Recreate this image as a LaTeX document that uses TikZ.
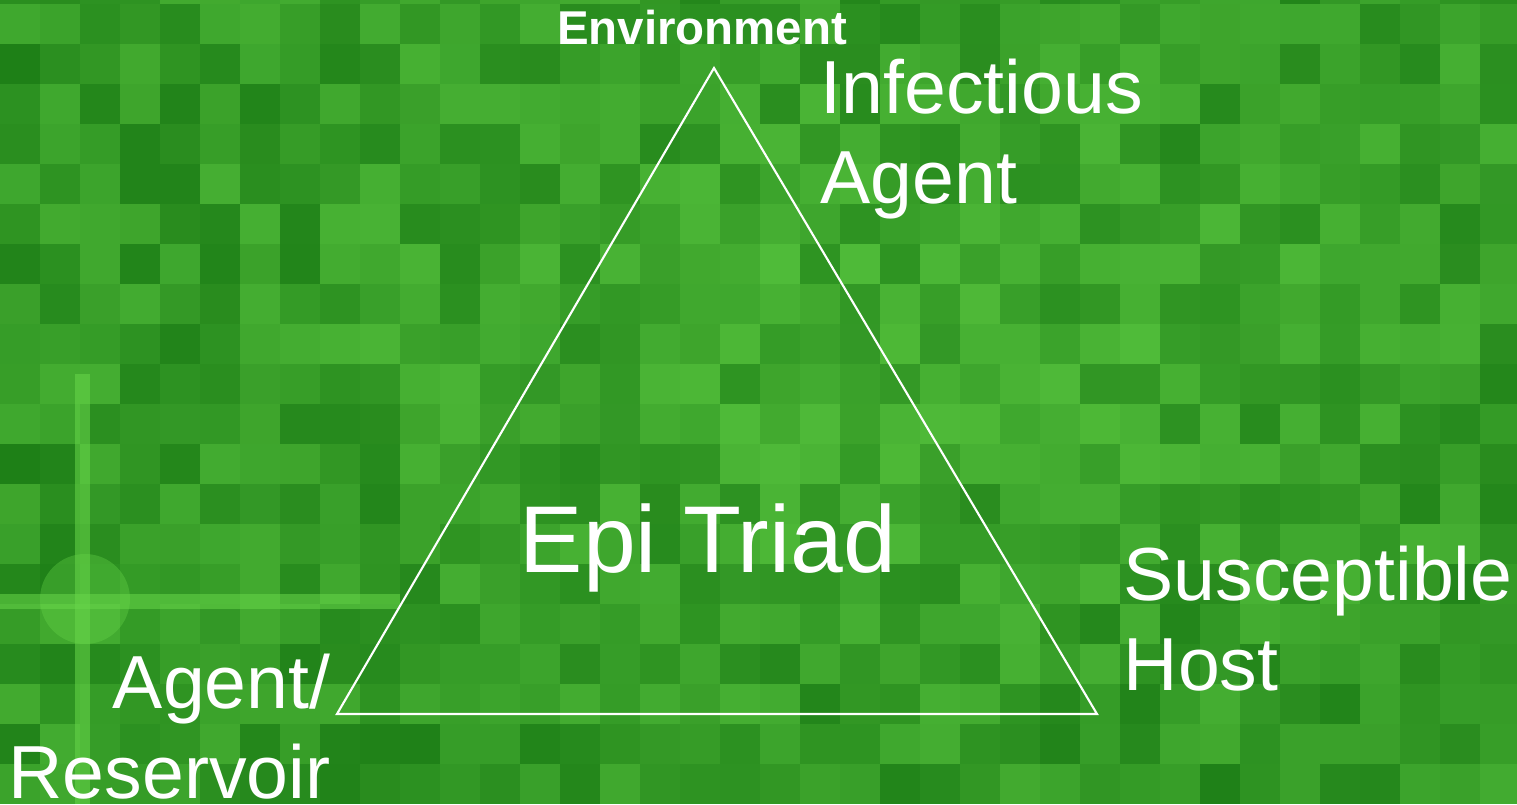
\documentclass[tikz,border=0pt]{standalone}
\usepackage{fontspec}
\setmainfont{Liberation Sans}
\usepackage{xcolor}
\usetikzlibrary{arrows,positioning,shapes}

\definecolor{bgdark}{RGB}{12,104,12}
\definecolor{bgmid}{RGB}{50,160,34}
\definecolor{bglight}{RGB}{104,214,74}

\begin{document}
\begin{tikzpicture}[x=1cm, y=1cm]
    % Define styles
    \tikzstyle{label} = [text=white, inner sep=0pt, font=\fontsize{21.4}{25.6}\selectfont]
    \tikzstyle{side} = [draw=white, line width=0.6pt]

    \useasboundingbox (0,0) rectangle (15.17,8.04);

    % Background
    \begin{scope}
        \clip (0,0) rectangle (15.17,8.04);
        \fill[bgmid] (0,0) rectangle (15.17,8.04);
        \pgfmathsetseed{4711}
        \foreach \i in {0,...,37} {
            \foreach \j in {0,...,20} {
                \pgfmathsetmacro\t{int(15+50*rnd+25*(1-abs(\i-22)/22)*(1-abs(\j-11)/12))}
                \fill[bglight!\t!bgdark, opacity=0.8] (0.4*\i,0.4*\j) rectangle ++(0.4,0.4);
            }
        }
        \fill[bglight, opacity=0.55] (0,1.95) rectangle (4,2.1);
        \fill[bglight, opacity=0.55] (0.75,0) rectangle (0.9,4.3);
        \fill[bglight, opacity=0.35] (0.85,2.05) circle (0.45);
    \end{scope}

    % Triangle
    \coordinate (top) at (7.14,7.36);
    \coordinate (left) at (3.37,0.90);
    \coordinate (right) at (10.97,0.90);
    \draw[side] (top) -- (right) -- (left) -- cycle;

    % Labels
    \node[label, font=\fontsize{13.5}{16}\selectfont\bfseries, anchor=base] (env) at (7.02,7.60) {Environment};
    \node[label, align=left, anchor=base west] (agent) at (8.20,6.01) {Infectious\\Agent};
    \node[label, font=\fontsize{27}{32}\selectfont, anchor=base] (triad) at (7.08,2.32) {Epi Triad};
    \node[label, align=left, anchor=base west] (host) at (11.23,1.14) {Susceptible\\Host};
    \node[label, align=right, anchor=base east] (reservoir) at (3.31,0.06) {Agent/\\Reservoir};

\end{tikzpicture}
\end{document}
